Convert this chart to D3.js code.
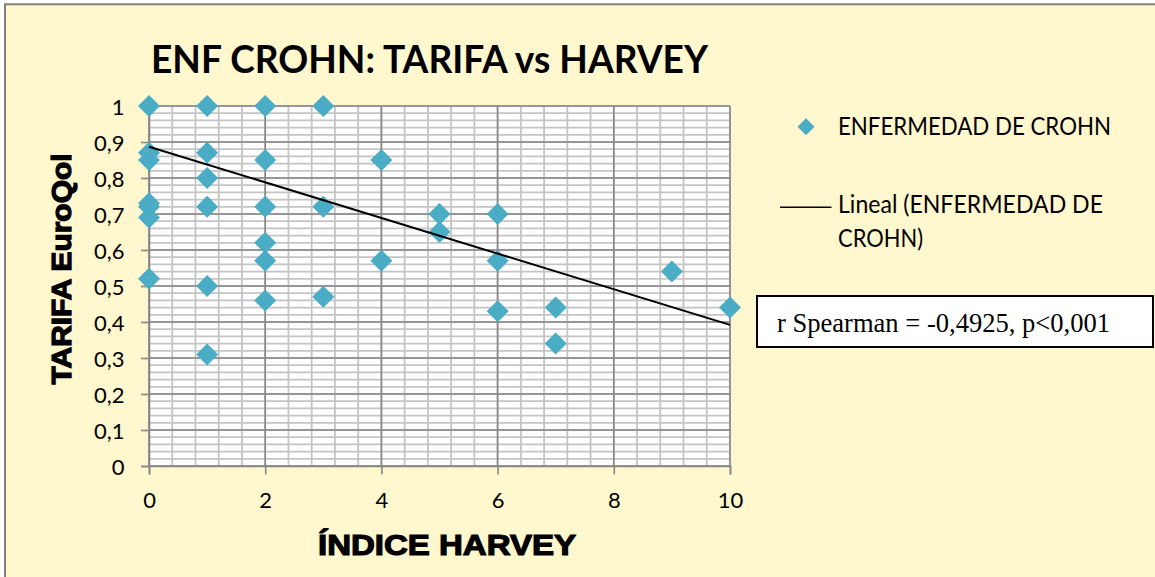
<!DOCTYPE html>
<html>
<head>
<meta charset="utf-8">
<script src="https://cdn.jsdelivr.net/npm/d3@7"></script>
<style>
  html, body { margin: 0; padding: 0; background: #ffffff; }
  svg { display: block; }
</style>
</head>
<body>
<svg id="chart" width="1155" height="577"></svg>
<script>
// ---------------- data ----------------
const harveyIndex = [0, 0, 0, 0, 0, 0, 0,
                     1, 1, 1, 1, 1, 1,
                     2, 2, 2, 2, 2, 2,
                     3, 3, 3,
                     4, 4,
                     5, 5,
                     6, 6, 6,
                     7, 7,
                     9,
                     10];
const tarifaEuroQol = [1.00, 0.87, 0.85, 0.73, 0.72, 0.69, 0.52,
                       1.00, 0.87, 0.80, 0.72, 0.50, 0.31,
                       1.00, 0.85, 0.72, 0.62, 0.57, 0.46,
                       1.00, 0.72, 0.47,
                       0.85, 0.57,
                       0.70, 0.65,
                       0.70, 0.57, 0.43,
                       0.44, 0.34,
                       0.54,
                       0.44];
const trendX = [0, 10];
const trendY = [0.887, 0.392];
const xTicks = [0, 2, 4, 6, 8, 10];
const yTicks = [0, 0.1, 0.2, 0.3, 0.4, 0.5, 0.6, 0.7, 0.8, 0.9, 1];
const yTickLabels = ["0", "0,1", "0,2", "0,3", "0,4", "0,5", "0,6", "0,7", "0,8", "0,9", "1"];
const titleText = "ENF CROHN: TARIFA vs HARVEY";
const xTitle = "ÍNDICE HARVEY";
const yTitle = "TARIFA EuroQol";
const seriesName = "ENFERMEDAD DE CROHN";
const trendNameLines = ["Lineal (ENFERMEDAD DE", "CROHN)"];
const noteText = "r Spearman = -0,4925, p<0,001";

// ---------------- layout ----------------
const svg = d3.select("#chart");
const P = { left: 149, right: 730, top: 106, bottom: 466 };
const x = d3.scaleLinear().domain([0, 10]).range([P.left, P.right]);
const y = d3.scaleLinear().domain([0, 1]).range([P.bottom, P.top]);
const calibri = "Lato, 'Open Sans', sans-serif";
const heavy = "'Arial Black', 'Liberation Sans', Arial, sans-serif";
const markerColor = "#4BACC6";

// outer frame
svg.append("rect").attr("x", 5).attr("y", 4.3).attr("width", 1170).attr("height", 600)
  .attr("fill", "#FFF7CE").attr("stroke", "#808080").attr("stroke-width", 2);

// plot background
svg.append("rect").attr("x", P.left).attr("y", P.top)
  .attr("width", P.right - P.left).attr("height", P.bottom - P.top).attr("fill", "#ffffff");

// minor grid
const minorX = d3.range(0, 10.0001, 0.4);
const minorY = d3.range(0, 1.0001, 0.02);
const grid = svg.append("g");
grid.selectAll(".mx").data(minorX).join("line")
  .attr("x1", d => x(d)).attr("x2", d => x(d)).attr("y1", P.top).attr("y2", P.bottom)
  .attr("stroke", "#C4C4C4").attr("stroke-width", 1.8);
grid.selectAll(".my").data(minorY).join("line")
  .attr("x1", P.left).attr("x2", P.right).attr("y1", d => y(d)).attr("y2", d => y(d))
  .attr("stroke", "#C4C4C4").attr("stroke-width", 1.8);
// major grid
grid.selectAll(".Mx").data(xTicks).join("line")
  .attr("x1", d => x(d)).attr("x2", d => x(d)).attr("y1", P.top).attr("y2", P.bottom)
  .attr("stroke", "#878787").attr("stroke-width", 1.6);
grid.selectAll(".My").data(yTicks).join("line")
  .attr("x1", P.left).attr("x2", P.right).attr("y1", d => y(d)).attr("y2", d => y(d))
  .attr("stroke", "#878787").attr("stroke-width", 1.6);

// axes
const yAxis = d3.axisLeft(y).tickValues(yTicks).tickSize(8).tickPadding(16.5)
  .tickFormat((d, i) => yTickLabels[i]);
const gy = svg.append("g").attr("transform", `translate(${P.left},0)`).call(yAxis);
gy.select(".domain").attr("stroke", "#878787").attr("stroke-width", 1.6);
gy.selectAll(".tick line").attr("stroke", "#878787").attr("stroke-width", 1.6);
gy.selectAll(".tick text").attr("font-family", calibri).attr("font-size", 22)
  .attr("fill", "#000").attr("dy", "0.39em");

const xAxis = d3.axisBottom(x).tickValues(xTicks).tickSize(8.5).tickFormat(d => String(d));
const gx = svg.append("g").attr("transform", `translate(0,${P.bottom})`).call(xAxis);
gx.select(".domain").attr("stroke", "#878787").attr("stroke-width", 1.6);
gx.selectAll(".tick line").attr("stroke", "#878787").attr("stroke-width", 1.6);
gx.selectAll(".tick text").attr("font-family", calibri).attr("font-size", 22)
  .attr("fill", "#000").attr("y", 42).attr("dy", 0);

// markers
const pts = harveyIndex.map((h, i) => ({ h, t: tarifaEuroQol[i] }));
const R = 11;
svg.append("g").selectAll("path").data(pts).join("path")
  .attr("d", d => {
    const cx = x(d.h), cy = y(d.t);
    return `M${cx},${cy - R}L${cx + R},${cy}L${cx},${cy + R}L${cx - R},${cy}Z`;
  })
  .attr("fill", markerColor);

// trend line
svg.append("line")
  .attr("x1", x(trendX[0])).attr("y1", y(trendY[0]))
  .attr("x2", x(trendX[1])).attr("y2", y(trendY[1]))
  .attr("stroke", "#000").attr("stroke-width", 2);

// title
svg.append("text").attr("x", 151).attr("y", 73).text(titleText)
  .attr("font-family", calibri).attr("font-weight", 700).attr("font-size", 37.7)
  .attr("textLength", 557).attr("lengthAdjust", "spacingAndGlyphs").attr("fill", "#000");

// axis titles
svg.append("text").attr("transform", "translate(71,269) rotate(-90)")
  .attr("text-anchor", "middle").text(yTitle)
  .attr("font-family", heavy).attr("font-weight", 900).attr("font-size", 28)
  .attr("stroke", "#000").attr("stroke-width", 1.2)
  .attr("textLength", 231).attr("lengthAdjust", "spacingAndGlyphs");
svg.append("text").attr("x", 318).attr("y", 554.5).text(xTitle)
  .attr("font-family", heavy).attr("font-weight", 900).attr("font-size", 29.5)
  .attr("stroke", "#000").attr("stroke-width", 1.2)
  .attr("textLength", 258).attr("lengthAdjust", "spacingAndGlyphs");

// legend
const lg = svg.append("g");
const LR = 8.5;
lg.append("path").attr("d", `M806,${126.7 - LR}L${806 + LR},126.7L806,${126.7 + LR}L${806 - LR},126.7Z`)
  .attr("fill", markerColor);
lg.append("text").attr("x", 838).attr("y", 135).text(seriesName)
  .attr("font-family", calibri).attr("font-size", 24.5).attr("fill", "#000")
  .attr("textLength", 273).attr("lengthAdjust", "spacingAndGlyphs");
lg.append("line").attr("x1", 780).attr("x2", 831.5).attr("y1", 207.3).attr("y2", 207.3)
  .attr("stroke", "#000").attr("stroke-width", 1.5);
const trendLens = [265, 85];
lg.selectAll(".tl").data(trendNameLines).join("text")
  .attr("x", 838).attr("y", (d, i) => 213.3 + i * 33.4).text(d => d)
  .attr("font-family", calibri).attr("font-size", 24.5).attr("fill", "#000")
  .attr("textLength", (d, i) => trendLens[i]).attr("lengthAdjust", "spacingAndGlyphs");

// annotation box
svg.append("rect").attr("x", 757).attr("y", 296).attr("width", 396).attr("height", 51)
  .attr("fill", "#ffffff").attr("stroke", "#000").attr("stroke-width", 2);
svg.append("text").attr("x", 777).attr("y", 331.7).text(noteText)
  .attr("font-family", "'Liberation Serif', 'Times New Roman', serif").attr("font-size", 26.5)
  .attr("fill", "#000").attr("textLength", 333).attr("lengthAdjust", "spacingAndGlyphs");
</script>
</body>
</html>
